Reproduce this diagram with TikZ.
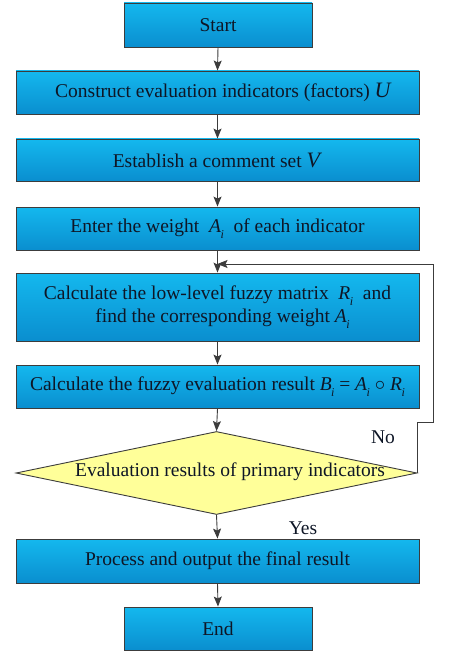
\documentclass[tikz,border=0pt]{standalone}
\usepackage{fontspec}
\setmainfont{Liberation Serif}[Ligatures=TeX]
\newfontfamily\tms{Liberation Serif}
\usetikzlibrary{shapes.geometric,arrows.meta}
\definecolor{boxtop}{HTML}{14B8EE}
\definecolor{boxbot}{HTML}{0A8ECF}
\definecolor{edgec}{HTML}{3C3C3C}
\definecolor{diafill}{HTML}{FFFF99}
\definecolor{txt}{HTML}{0E1626}
\newcommand\vsub[2]{\textit{#1}\kern-0.5pt\raisebox{-0.28em}{\fontsize{12}{12}\selectfont\textit{#2}}}
\tikzset{
  box/.style={draw=edgec, line width=0.9pt, top color=boxtop, bottom color=boxbot,
    minimum width=403pt, minimum height=43pt, inner sep=0pt, text=txt,
    font=\tms\fontsize{19.5}{23}\selectfont, align=center},
  smallbox/.style={box, minimum width=188pt},
  decision/.style={diamond, draw=edgec, line width=0.9pt, fill=diafill,
    minimum width=401pt, minimum height=83pt, inner sep=0pt},
  lbl/.style={text=txt, font=\tms\fontsize{19.5}{23}\selectfont, inner sep=0pt},
  arr/.style={draw=edgec, line width=0.9pt, -{Stealth[length=10pt,width=8pt,inset=2pt]}}
}
\begin{document}
\begin{tikzpicture}[x=1pt,y=-1pt]
\useasboundingbox (0,0) rectangle (474,655);
\node[smallbox, minimum height=44pt] (start) at (218,25) {Start};
\node[box] (construct) at (217.5,92.5) {\hspace*{12pt}Construct evaluation indicators (factors) \textit{\fontsize{22}{23}\selectfont U}};
\node[box, minimum height=42pt] (comment) at (217.5,160) {Establish a comment set \textit{\fontsize{22}{23}\selectfont V}};
\node[box] (enter) at (217.5,228.5) {Enter the weight \ \vsub{A}{i} \ of each indicator};
\node[box, minimum height=68pt] (calc) at (217.5,307) {Calculate the low-level fuzzy matrix \ \vsub{R}{i} \ and\\ \hspace*{10pt}find the corresponding weight \vsub{A}{i}};
\node[box] (fuzzy) at (217.5,386.5) {Calculate the fuzzy evaluation result \vsub{B}{i} = \vsub{A}{i} $\circ$ \vsub{R}{i}};
\node[decision] (dia) at (216.5,473) {};
\node[lbl] (diatext) at (230,472) {Evaluation results of primary indicators};
\node[box, minimum height=44pt] (process) at (217.5,561) {Process and output the final result};
\node[smallbox] (end) at (218,628.5) {End};
\coordinate (fb) at (217.5,264);
\draw[arr] (start.south) -- (construct.north);
\draw[arr] (construct.south) -- (comment.north);
\draw[arr] (comment.south) -- (enter.north);
\draw[arr] (enter.south) -- (calc.north);
\draw[arr] (calc.south) -- (fuzzy.north);
\draw[arr] (fuzzy.south) -- (dia.north);
\draw[arr] (dia.south) -- (process.north);
\draw[arr] (process.south) -- (end.north);
\draw[arr] (dia.east) -- ++(0,-51) -- ++(16,0) |- (fb);
\node[lbl] (no) at (383,437) {No};
\node[lbl] (yes) at (303,528) {Yes};
\end{tikzpicture}
\end{document}
